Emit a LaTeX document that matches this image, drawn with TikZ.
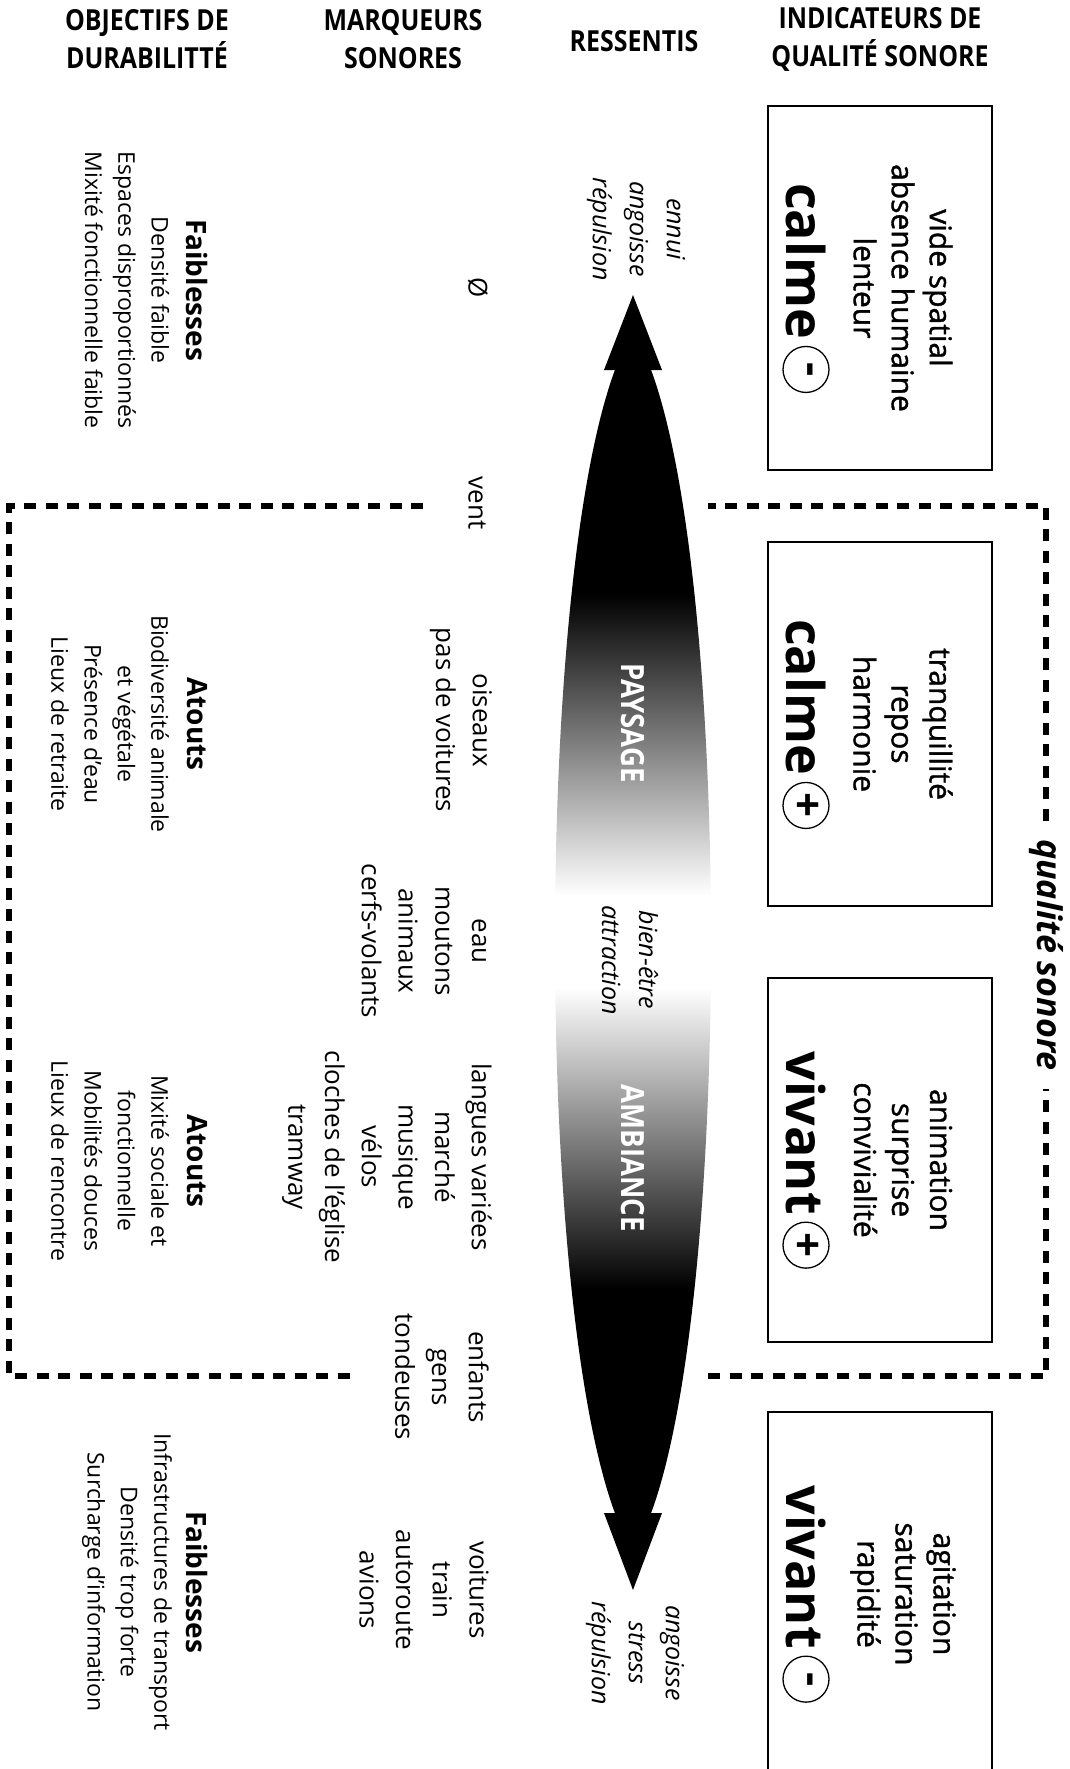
\documentclass[tikz,border=0pt]{standalone}
\usepackage{fontspec}
\setmainfont{Open Sans}
\newfontfamily\headfont{Open Sans}[FakeStretch=0.86]
\newfontfamily\boxfont{Open Sans}[FakeBold=1.2]
\pgfdeclareverticalshading{lensfade}{100bp}{color(0bp)=(black); color(35bp)=(black); color(48bp)=(white); color(52bp)=(white); color(65bp)=(black); color(100bp)=(black)}
\tikzset{
  qbox/.style={draw, line width=2.5pt, minimum width=224pt, minimum height=364pt, inner sep=0pt},
  boxtxt/.style={rotate=-90, align=center, inner sep=0pt, font=\boxfont\fontsize{30}{38}\selectfont},
  bigword/.style={rotate=-90, inner sep=0pt, font=\fontsize{52}{60}\selectfont\bfseries},
  signcirc/.style={rotate=-90, circle, draw, line width=1.3pt, minimum size=46pt, inner sep=0pt, font=\fontsize{44}{44}\selectfont\bfseries},
  marker/.style={rotate=-90, align=center, inner sep=0pt, font=\fontsize{26}{36.7}\selectfont},
  feel/.style={rotate=-90, align=center, inner sep=0pt, font=\fontsize{25}{37}\selectfont\itshape},
  goalhead/.style={rotate=-90, inner sep=0pt, font=\fontsize{28}{34}\selectfont\bfseries},
  goaltxt/.style={rotate=-90, align=center, inner sep=0pt, font=\fontsize{23}{33.3}\selectfont},
  colhead/.style={align=center, inner sep=0pt, font=\headfont\bfseries\fontsize{29}{38}\selectfont},
  lenslab/.style={rotate=-90, inner sep=0pt, text=white, font=\headfont\bfseries\fontsize{32}{36}\selectfont},
  framelab/.style={rotate=-90, inner xsep=18pt, inner ysep=0pt, font=\fontsize{34}{40}\selectfont\bfseries\itshape},
  frame/.style={line width=6pt, dash pattern=on 12pt off 9.5pt}
}

\begin{document}
\begin{tikzpicture}[x=1pt, y=-1pt]
  \useasboundingbox (0,0) rectangle (1069,1769);
  \clip (0,0) rectangle (1069,1769);

  % column titles
  \node[colhead] (hd1) at (147,39) {OBJECTIFS DE\\DURABILITTÉ};
  \node[colhead] (hd2) at (403,39) {MARQUEURS\\SONORES};
  \node[colhead] (hd3) at (634,41) {RESSENTIS};
  \node[colhead] (hd4) at (880,39) {INDICATEURS DE\\QUALITÉ SONORE};

  % indicator boxes
  \foreach \n/\yc/\lines/\word/\sg in {1/288/{vide spatial\\absence humaine\\lenteur}/calme/-,
      2/724/{tranquillité\\repos\\harmonie}/calme/+,
      3/1160/{animation\\surprise\\convivialité}/vivant/+,
      4/1594/{agitation\\saturation\\rapidité}/vivant/-} {
    \node[qbox] (box\n) at (880,\yc) {};
    \node[boxtxt] (txt\n) at (903,\yc) {\lines};
    \node[bigword] (word\n) at (806,\yc) {\word\rule{54pt}{0pt}};
    \node[signcirc, anchor=east] (sign\n) at (word\n.east) {\sg};
  }

  % dashed frame
  \coordinate (ftl) at (9,506);
  \coordinate (ftr) at (1046,506);
  \coordinate (fbl) at (9,1376);
  \coordinate (fbr) at (1046,1376);
  \coordinate (ftgapL) at (423,506);
  \coordinate (ftgapR) at (708,506);
  \coordinate (fbgapL) at (357,1376);
  \coordinate (fbgapR) at (708,1376);
  \node[framelab] (qs) at (1046,955) {qualité sonore};
  \draw[frame] (qs.west) -- (ftr) -- (ftgapR);
  \draw[frame] (ftgapL) -- (ftl) -- (fbl) -- (fbgapL);
  \draw[frame] (fbgapR) -- (fbr) -- (qs.east);

  % double arrow
  \shade[shading=lensfade] (618,362) .. controls (534,570) and (534,1313) .. (618,1521)
    -- (648,1521) .. controls (732,1313) and (732,570) .. (648,362) -- cycle;
  \fill (633,295) -- (604,370) -- (662,370) -- cycle;
  \fill (633,1590) -- (604,1513) -- (662,1513) -- cycle;
  \node[lenslab] (pay) at (633,723) {PAYSAGE};
  \node[lenslab] (amb) at (633,1158) {AMBIANCE};

  % ressentis
  \node[feel] (rs1) at (636,229) {ennui\\angoisse\\répulsion};
  \node[feel] (rs2) at (630,960) {bien-être\\attraction};
  \node[feel] (rs3) at (635,1653) {angoisse\\stress\\répulsion};

  % marqueurs
  \node[marker] (mk0) at (478,288) {Ø};
  \node[marker] (mk1) at (477,503) {vent};
  \node[marker] (mk2) at (461,720) {oiseaux\\pas de voitures};
  \node[marker] (mk3) at (424,941) {eau\\moutons\\animaux\\cerfs-volants};
  \node[marker] (mk4) at (387,1157) {langues variées\\marché\\musique\\vélos\\cloches de l’église\\tramway};
  \node[marker] (mk5) at (442,1377) {enfants\\gens\\tondeuses};
  \node[marker] (mk6) at (424,1590) {voitures\\train\\autoroute\\avions};

  % objectifs
  \node[goalhead] (gh1) at (197,290) {Faiblesses};
  \node[goaltxt] (gt1) at (127,290) {Densité faible\\Espaces disproportionnés\\Mixité fonctionnelle faible};
  \node[goalhead] (gh2) at (197,724) {Atouts};
  \node[goaltxt] (gt2) at (110,724) {Biodiversité animale\\et végétale\\Présence d’eau\\Lieux de retraite};
  \node[goalhead] (gh3) at (197,1161) {Atouts};
  \node[goaltxt] (gt3) at (110,1161) {Mixité sociale et\\fonctionnelle\\Mobilités douces\\Lieux de rencontre};
  \node[goalhead] (gh4) at (197,1582) {Faiblesses};
  \node[goaltxt] (gt4) at (127,1582) {Infrastructures de transport\\Densité trop forte\\Surcharge d’information};
\end{tikzpicture}
\end{document}
